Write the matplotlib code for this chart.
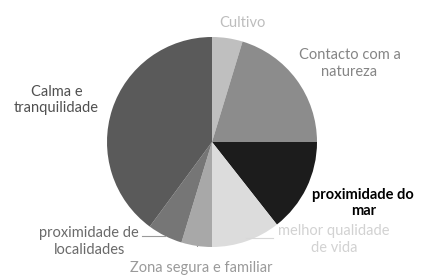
import numpy as np
import matplotlib.pyplot as plt

categories = ['Cultivo', 'Contacto com a\nnatureza', 'proximidade do\nmar',
              'melhor qualidade\nde vida', 'Zona segura e familiar',
              'proximidade de\nlocalidades', 'Calma e\ntranquilidade']
shares = [4.7, 20.3, 14.4, 10.6, 4.7, 5.4, 39.9]
colors = ['#bfbfbf', '#8c8c8c', '#1c1c1c', '#dcdcdc', '#a8a8a8', '#767676', '#5a5a5a']
label_colors = ['#bdbdbd', '#858585', '#000000', '#d2d2d2', '#9a9a9a', '#6a6a6a', '#505050']
label_pos = [(0.29, 1.13), (1.31, 0.75), (1.44, -0.58), (1.16, -0.93),
             (-0.10, -1.20), (-1.17, -0.95), (-1.48, 0.40)]

plt.rcParams['font.family'] = ['Lato', 'DejaVu Sans']

fig = plt.figure(figsize=(4.21, 2.78), dpi=100)
ax = fig.add_axes([107 / 421, 31 / 278, 210 / 421, 210 / 278])
wedges, _ = ax.pie(shares, colors=colors, startangle=90, counterclock=False,
                   radius=1.0, wedgeprops=dict(linewidth=0))

for w, lab, col, (lx, ly) in zip(wedges, categories, label_colors, label_pos):
    bold = lab.startswith('proximidade do')
    ax.text(lx, ly, lab, ha='center', va='center', fontsize=10.5, color=col,
            fontweight='bold' if bold else 'normal', linespacing=1.25)

# short leader lines for the bottom labels
for i in (3, 4, 5):
    w = wedges[i]
    ang = np.deg2rad((w.theta1 + w.theta2) / 2)
    x0, y0 = np.cos(ang), np.sin(ang)
    if i == 4:
        ax.plot([x0, x0], [y0, y0 - 0.1], color='#9a9a9a', lw=0.8)
    elif i == 5:
        ax.plot([x0, x0 - 0.22], [y0, y0], color='#9a9a9a', lw=0.8)
    else:
        ax.plot([x0, x0 + 0.25], [y0 + 0.03, y0 + 0.03], color='#d8d8d8', lw=0.8)

ax.set_xlim(-1, 1)
ax.set_ylim(-1, 1)
ax.set_aspect('equal')
ax.axis('off')

fig.savefig('out.png', dpi=100)
